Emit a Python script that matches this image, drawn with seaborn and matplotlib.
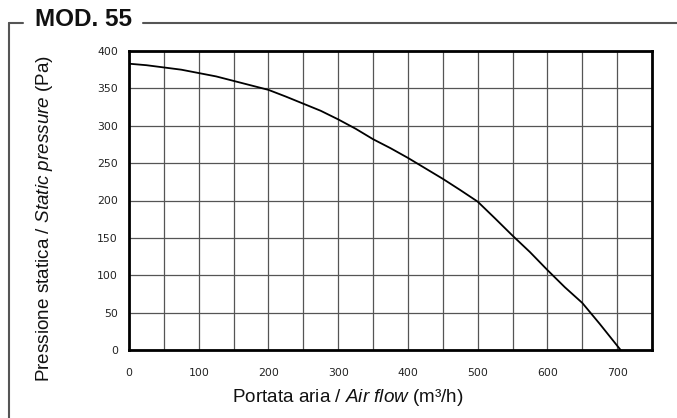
import matplotlib
matplotlib.use("Agg")
import matplotlib.pyplot as plt
import matplotlib.lines as mlines
from matplotlib import font_manager
import seaborn as sns
import pandas as pd

# ---- data ----
air_flow = [0, 25, 50, 75, 100, 125, 150, 175, 200, 225, 250, 275, 300, 325, 350,
            375, 400, 425, 450, 475, 500, 525, 550, 575, 600, 625, 650, 675, 705]
static_pressure = [383, 381, 378, 375, 370.5, 366, 360, 354, 348, 339, 329.5, 320,
                   308.5, 296, 282, 270, 257, 243, 229, 214, 198.5, 176, 153, 131,
                   107, 84, 63, 35, 0]
x_ticks = [0, 100, 200, 300, 400, 500, 600, 700]
y_ticks = [0, 50, 100, 150, 200, 250, 300, 350, 400]
title = "MOD. 55"
x_label = r"Portata aria / $\mathit{Air\ flow}$ (m³/h)"
y_label = r"Pressione statica / $\mathit{Static\ pressure}$ (Pa)"

sns.set_style("white")
plt.rcParams["font.family"] = ["Liberation Sans", "DejaVu Sans"]
plt.rcParams["mathtext.fontset"] = "custom"
plt.rcParams["mathtext.rm"] = "Liberation Sans"
plt.rcParams["mathtext.it"] = "Liberation Sans:italic"


def has_font(name):
    try:
        font_manager.findfont(name, fallback_to_default=False)
        return True
    except Exception:
        return False


narrow = has_font("Liberation Sans Narrow")
if narrow:
    tick_family, tick_size = "Liberation Sans Narrow", 9
    title_family, title_size = "Liberation Sans Narrow", 20
else:
    tick_family, tick_size = "DejaVu Sans", 7.8
    title_family, title_size = "Liberation Sans", 17.5

df = pd.DataFrame({"flow": air_flow, "pressure": static_pressure})

W, H = 677, 418
fig = plt.figure(figsize=(W / 100, H / 100), dpi=100)
ax = fig.add_axes([129 / W, 1 - 350 / H, (652 - 129) / W, (350 - 51) / H])

sns.lineplot(data=df, x="flow", y="pressure", ax=ax, color="black", linewidth=1.3)

ax.set_xlim(0, 750)
ax.set_ylim(0, 400)
ax.set_xticks(x_ticks)
ax.set_yticks(y_ticks)
ax.set_xticks(range(0, 751, 50), minor=True)
ax.tick_params(axis="both", which="major", labelsize=tick_size, length=4, width=0.8,
               color="#444444", direction="out")
ax.tick_params(axis="x", which="major", pad=9)
ax.tick_params(axis="y", which="major", pad=4)
ax.tick_params(axis="x", which="minor", length=0)
ax.tick_params(axis="both", labelcolor="#222222")
for lab in ax.get_xticklabels() + ax.get_yticklabels():
    lab.set_family(tick_family)
ax.grid(True, which="both", color="#555555", linewidth=0.9)
ax.set_axisbelow(True)
for s in ax.spines.values():
    s.set_visible(True)
    s.set_color("black")
    s.set_linewidth(2)

ax.set_xlabel("")
ax.set_ylabel("")
fig.text(348 / W, 1 - 398 / H, x_label, fontsize=13.6, ha="center", va="center",
         color="#111111")
fig.text(45 / W, 1 - 218 / H, y_label, fontsize=13.6, ha="center", va="center",
         rotation=90, color="#111111")

# frame / title
fig.text(35 / W, 1 - 20 / H, title, fontsize=title_size, fontweight="bold",
         family=[title_family, "Liberation Sans", "DejaVu Sans"],
         va="center", ha="left", color="#111111")
ycap = 1 - 22.5 / H
frame_kw = dict(color="#555555", linewidth=1.5, transform=fig.transFigure)
fig.add_artist(mlines.Line2D([8.5 / W, 23 / W], [ycap, ycap], **frame_kw))
fig.add_artist(mlines.Line2D([8.5 / W, 8.5 / W], [ycap, 0], **frame_kw))
fig.add_artist(mlines.Line2D([143 / W, 1], [ycap, ycap], **frame_kw))

fig.savefig("out.png", dpi=100)
